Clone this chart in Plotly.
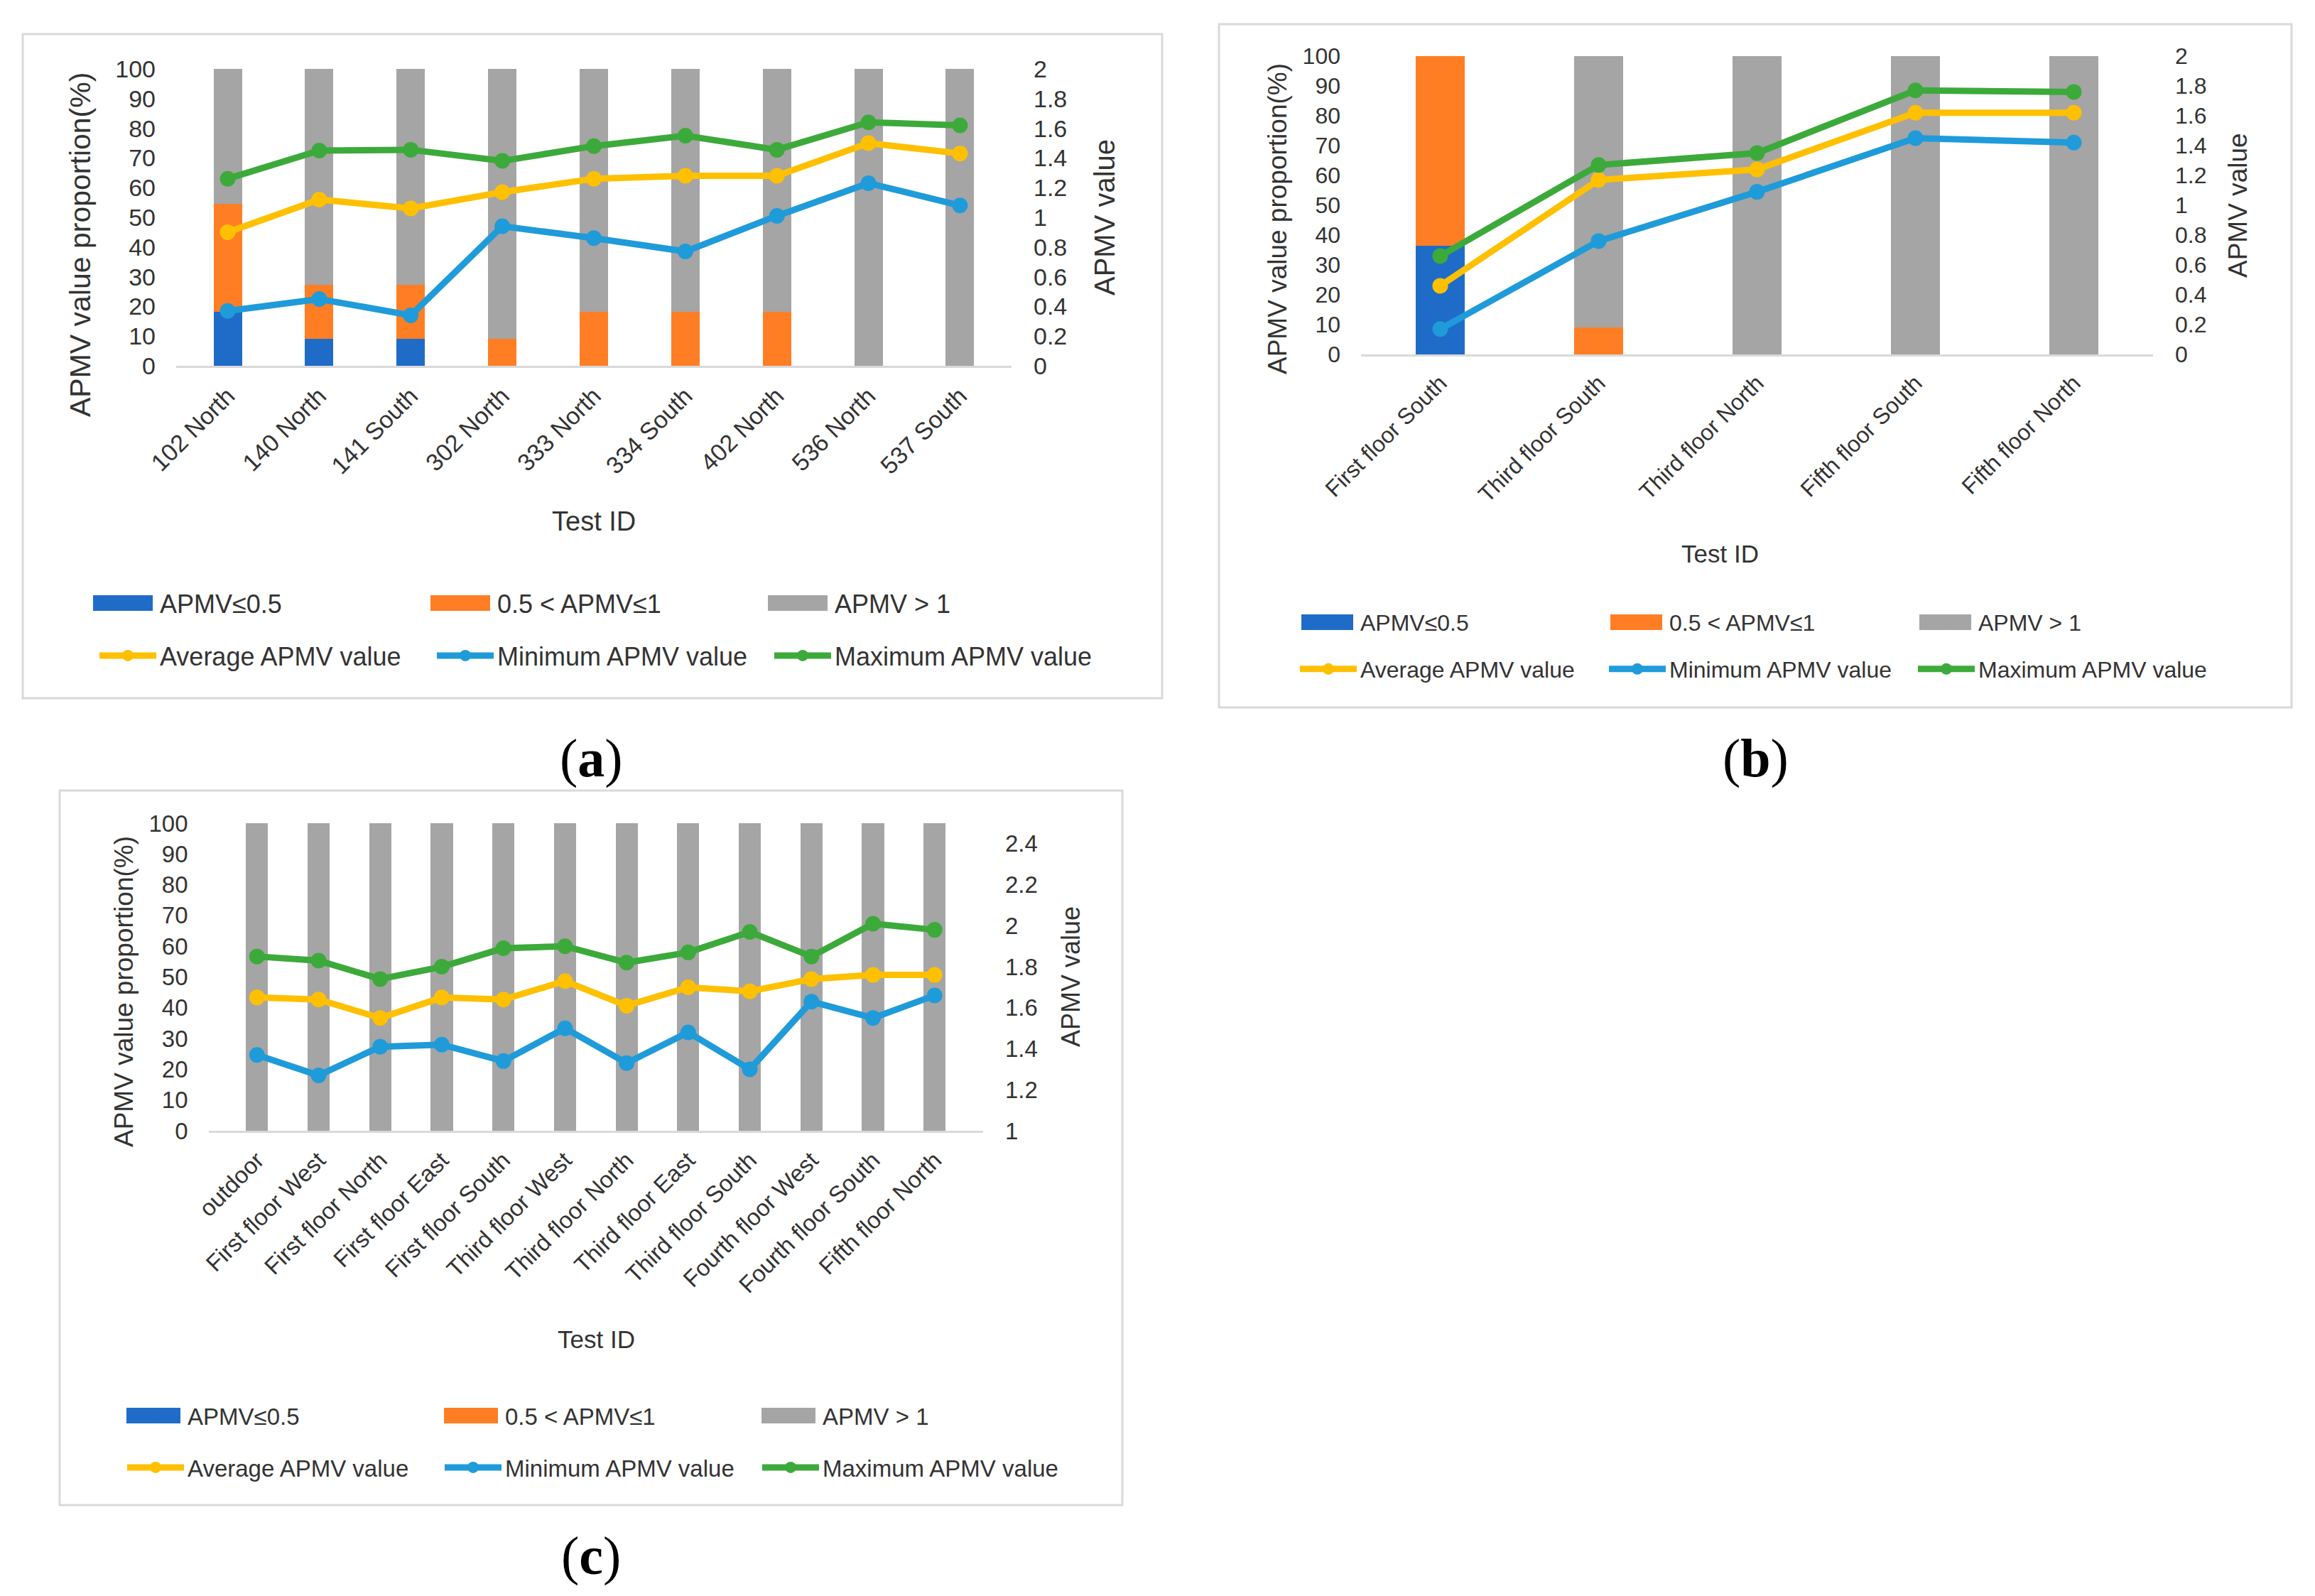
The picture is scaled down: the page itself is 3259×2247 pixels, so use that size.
import plotly.graph_objects as go

W, H = 3259, 2247

# ---------------- data ----------------
cats_a = ["102 North", "140 North", "141 South", "302 North", "333 North",
          "334 South", "402 North", "536 North", "537 South"]
low_a = [18.2, 9.1, 9.1, 0, 0, 0, 0, 0, 0]
mid_a = [36.4, 18.2, 18.2, 9.1, 18.2, 18.2, 18.2, 0, 0]
high_a = [45.4, 72.7, 72.7, 90.9, 81.8, 81.8, 81.8, 100, 100]
avg_a = [0.90, 1.12, 1.06, 1.17, 1.26, 1.28, 1.28, 1.50, 1.43]
min_a = [0.37, 0.45, 0.34, 0.94, 0.86, 0.77, 1.01, 1.23, 1.08]
max_a = [1.26, 1.45, 1.455, 1.38, 1.48, 1.55, 1.455, 1.64, 1.62]

cats_b = ["First floor South", "Third floor South", "Third floor North",
          "Fifth floor South", "Fifth floor North"]
low_b = [36.4, 0, 0, 0, 0]
mid_b = [63.6, 9.1, 0, 0, 0]
high_b = [0, 90.9, 100, 100, 100]
avg_b = [0.46, 1.17, 1.24, 1.62, 1.62]
min_b = [0.17, 0.76, 1.09, 1.45, 1.42]
max_b = [0.66, 1.27, 1.35, 1.77, 1.76]

cats_c = ["outdoor", "First floor West", "First floor North", "First floor East",
          "First floor South", "Third floor West", "Third floor North",
          "Third floor East", "Third floor South", "Fourth floor West",
          "Fourth floor South", "Fifth floor North"]
low_c = [0, 0, 0, 0, 0, 0, 0, 0, 0, 0, 0, 0]
mid_c = [0, 0, 0, 0, 0, 0, 0, 0, 0, 0, 0, 0]
high_c = [100, 100, 100, 100, 100, 100, 100, 100, 100, 100, 100, 100]
avg_c = [1.65, 1.64, 1.55, 1.65, 1.64, 1.73, 1.61, 1.70, 1.68, 1.74, 1.76, 1.76]
min_c = [1.37, 1.27, 1.41, 1.42, 1.34, 1.50, 1.33, 1.48, 1.30, 1.63, 1.55, 1.66]
max_c = [1.85, 1.83, 1.74, 1.80, 1.89, 1.90, 1.82, 1.87, 1.97, 1.85, 2.01, 1.98]

bar_names = ["APMV≤0.5", "0.5 < APMV≤1", "APMV > 1"]
line_names = ["Average APMV value", "Minimum APMV value", "Maximum APMV value"]

# ---------------- style ----------------
C_LOW, C_MID, C_HIGH = "#1F6CC8", "#FF7E24", "#A5A5A5"
C_AVG, C_MIN, C_MAX = "#FFC000", "#1F9BDA", "#3CAA3A"
BAR_COLORS = [C_LOW, C_MID, C_HIGH]
LINE_COLORS = [C_AVG, C_MIN, C_MAX]
TXT = "#333333"
FONT = "Liberation Sans, Arial, sans-serif"


def px(x):
    return x / W


def py(y):
    return 1 - y / H


fig = go.Figure()

panels = [
    dict(cats=cats_a, bars=[low_a, mid_a, high_a], lines=[avg_a, min_a, max_a],
         xa="x", ya="y", ya2="y2", width=0.31, lg1="legend", lg2="legend2"),
    dict(cats=cats_b, bars=[low_b, mid_b, high_b], lines=[avg_b, min_b, max_b],
         xa="x2", ya="y3", ya2="y4", width=0.31, lg1="legend3", lg2="legend4"),
    dict(cats=cats_c, bars=[low_c, mid_c, high_c], lines=[avg_c, min_c, max_c],
         xa="x3", ya="y5", ya2="y6", width=0.36, lg1="legend5", lg2="legend6"),
]

for p in panels:
    for name, vals, col in zip(bar_names, p["bars"], BAR_COLORS):
        fig.add_trace(go.Bar(x=p["cats"], y=vals, name=name, marker_color=col,
                             marker_line_width=0, width=p["width"],
                             xaxis=p["xa"], yaxis=p["ya"], legend=p["lg1"]))
    for name, vals, col in zip(line_names, p["lines"], LINE_COLORS):
        fig.add_trace(go.Scatter(x=p["cats"], y=vals, name=name, mode="lines+markers",
                                 line=dict(color=col, width=9),
                                 marker=dict(color=col, size=22),
                                 xaxis=p["xa"], yaxis=p["ya2"], legend=p["lg2"]))


def tf(size):
    return dict(family=FONT, size=size, color=TXT)


def xaxis(domain, anchor, fs):
    return dict(domain=domain, anchor=anchor, type="category", tickangle=-45,
                showline=True, linecolor="#D9D9D9", linewidth=3, showgrid=False,
                ticks="", tickfont=tf(fs), ticklabelstandoff=6, fixedrange=True)


def yleft(domain, anchor, fs):
    return dict(domain=domain, anchor=anchor, range=[0, 100], dtick=10, tick0=0,
                showgrid=False, zeroline=False, showline=False, ticks="",
                tickfont=tf(fs), ticklabelstandoff=28)


def yright(overlay, anchor, rng, t0, fs):
    return dict(overlaying=overlay, anchor=anchor, side="right", range=rng,
                dtick=0.2, tick0=t0, showgrid=False, zeroline=False, showline=False,
                ticks="", tickfont=tf(fs), ticklabelstandoff=30)


# plot areas (pixel positions of the reference)
fig.update_layout(
    xaxis=xaxis([px(248), px(1424)], "y", 34),
    yaxis=yleft([py(515), py(97)], "x", 34),
    yaxis2=yright("y", "x", [0, 2], 0, 34),
    xaxis2=xaxis([px(1916), px(3031)], "y3", 32),
    yaxis3=yleft([py(499), py(79)], "x2", 32),
    yaxis4=yright("y3", "x2", [0, 2], 0, 32),
    xaxis3=xaxis([px(293.5), px(1384)], "y5", 33),
    yaxis5=yleft([py(1592), py(1159)], "x3", 33),
    yaxis6=yright("y5", "x3", [1, 2.5], 1, 33),
)

TEXT_OFF = 91  # distance from legend x to start of entry text


def leg(text_x, y, spacing, fs):
    return dict(orientation="h", x=px(text_x - TEXT_OFF), y=py(y), xanchor="left",
                yanchor="middle", font=tf(fs), entrywidth=spacing - 95,
                entrywidthmode="pixels", itemwidth=80, bgcolor="rgba(0,0,0,0)",
                traceorder="normal", itemclick=False, itemdoubleclick=False)


# legend rows: (first text x, row y, item spacing, font size)
rows = {
    "legend": (226, 849, 475, 36), "legend2": (226, 923, 475, 36),
    "legend3": (1916, 876, 435, 32), "legend4": (1916, 942, 435, 32),
    "legend5": (265, 1993, 447, 33), "legend6": (265, 2066, 447, 33),
}
fig.update_layout(**{k: leg(*v) for k, v in rows.items()})

# panel frames
frames = [(32, 48, 1636, 983), (1716, 34, 3226, 996), (84, 1113, 1580, 2119)]
shapes = [dict(type="rect", xref="paper", yref="paper", x0=px(a), y0=py(d),
               x1=px(c), y1=py(b), line=dict(color="#D9D9D9", width=3), layer="below")
          for a, b, c, d in frames]

# wide colour keys behind the bar legend symbols (Excel-style)
key_w = {"legend": 84, "legend3": 73, "legend5": 76}
for key, kw in key_w.items():
    tx, ry, sp, _ = rows[key]
    for i, col in enumerate(BAR_COLORS):
        x1 = tx + i * sp - 11
        shapes.append(dict(type="rect", xref="paper", yref="paper",
                           x0=px(x1 - kw), x1=px(x1), y0=py(ry + 11), y1=py(ry - 11),
                           fillcolor=col, line=dict(width=0), layer="above"))

ann = []


def text(x, y, s, font, angle=0):
    ann.append(dict(xref="paper", yref="paper", x=px(x), y=py(y), text=s,
                    showarrow=False, font=font, textangle=angle,
                    xanchor="center", yanchor="middle"))


text(113, 345, "APMV value proportion(%)", tf(41), -90)
text(1555, 306, "APMV value", tf(40), -90)
text(836, 734, "Test ID", tf(38))
text(1798, 308, "APMV value proportion(%)", tf(37), -90)
text(3150, 289, "APMV value", tf(37), -90)
text(2421, 780, "Test ID", tf(35))
text(174, 1396, "APMV value proportion(%)", tf(37), -90)
text(1507, 1375, "APMV value", tf(36), -90)
text(839, 1885, "Test ID", tf(35))

labfont = dict(family="Liberation Serif, Times New Roman, serif", size=76, color="#000000")
text(832, 1067, "(<b>a</b>)", labfont)
text(2471, 1067, "(<b>b</b>)", labfont)
text(832, 2190, "(<b>c</b>)", labfont)

fig.update_layout(
    width=W, height=H, margin=dict(l=0, r=0, t=0, b=0, autoexpand=False),
    paper_bgcolor="white", plot_bgcolor="rgba(0,0,0,0)",
    barmode="stack", shapes=shapes, annotations=ann,
    font=dict(family=FONT, color=TXT),
)

fig.write_html("out.html", config={"displayModeBar": False},
               post_script="document.body.style.margin='0';")
